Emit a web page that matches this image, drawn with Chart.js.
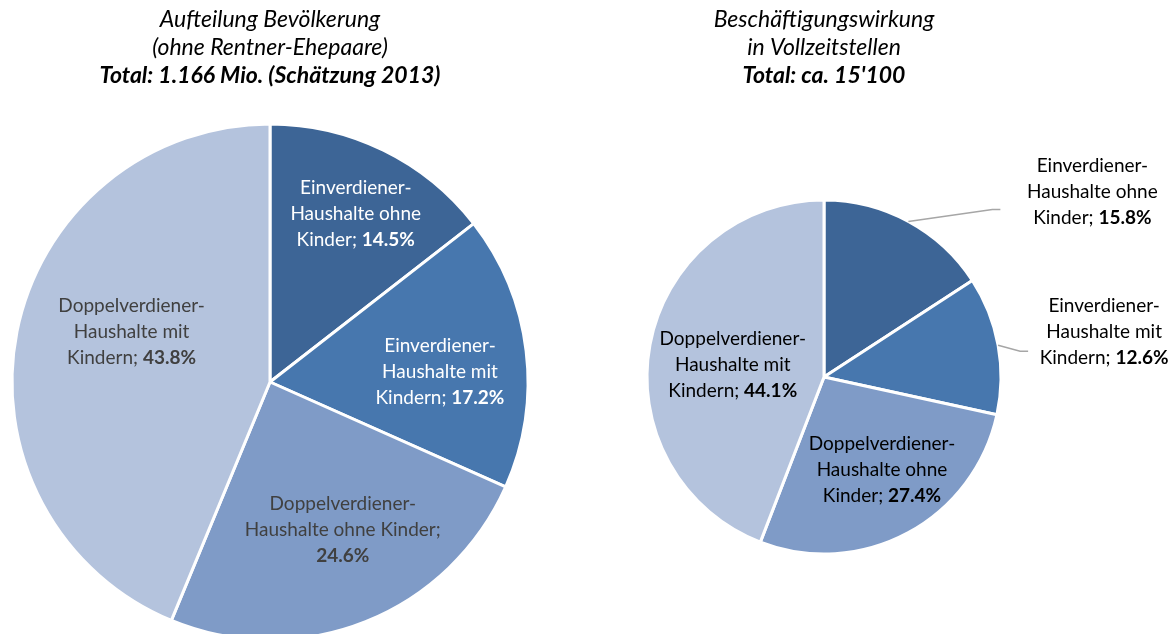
<!DOCTYPE html>
<html>
<head>
<meta charset="utf-8">
<script src="https://cdn.jsdelivr.net/npm/chart.js@4.4.0/dist/chart.umd.min.js"></script>
<style>
  html, body { margin: 0; padding: 0; background: #fff; overflow: hidden; width: 1174px; height: 634px; }
  .box { position: absolute; top: 0; }
  #leftBox { left: 0; width: 540px; height: 664px; }
  #rightBox { left: 462px; width: 712px; height: 654px; }
</style>
</head>
<body>
<div class="box" id="leftBox"><canvas id="leftChart"></canvas></div>
<div class="box" id="rightBox"><canvas id="rightChart"></canvas></div>
<script>
// chart data
const categories = [
    'Einverdiener-Haushalte ohne Kinder',
    'Einverdiener-Haushalte mit Kindern',
    'Doppelverdiener-Haushalte ohne Kinder',
    'Doppelverdiener-Haushalte mit Kindern'
];
const populationShares = [14.5, 17.2, 24.6, 43.8];
const employmentShares = [15.8, 12.6, 27.4, 44.1];

const leftTitle = ['Aufteilung Bevölkerung', '(ohne Rentner-Ehepaare)'];
const leftSubtitle = 'Total: 1.166 Mio. (Schätzung 2013)';
const rightTitle = ['Beschäftigungswirkung', 'in Vollzeitstellen'];
const rightSubtitle = "Total: ca. 15'100";

const sliceColors = ['#3d6596', '#4777ae', '#7f9bc7', '#b4c3dd'];
const FONT = 'Lato, "Liberation Sans", sans-serif';
const LABEL_SIZE = 19;
const LINE_H = 26;

// split a category name into tokens, wrap greedily, last token is the bold percentage
function buildLines(ctx, name, value, maxWidth) {
    const words = name.replace('-', '- ').split(' ').filter(Boolean);
    words[words.length - 1] += ';';
    const tokens = words.map(w => ({ text: w, bold: false }));
    tokens.push({ text: value.toFixed(1) + '%', bold: true });

    const widthOf = t => {
        ctx.font = (t.bold ? 'bold ' : '') + LABEL_SIZE + 'px ' + FONT;
        return ctx.measureText(t.text).width;
    };
    ctx.font = LABEL_SIZE + 'px ' + FONT;
    const space = ctx.measureText(' ').width;

    const lines = [];
    let cur = [];
    let curW = 0;
    tokens.forEach(t => {
        const w = widthOf(t);
        const forceBreak = cur.length && cur[cur.length - 1].text.endsWith('-');
        if (cur.length && (forceBreak || curW + space + w > maxWidth)) {
            lines.push(cur);
            cur = [];
            curW = 0;
        }
        curW += (cur.length ? space : 0) + w;
        cur.push({ text: t.text, bold: t.bold, w: w });
    });
    if (cur.length) lines.push(cur);
    return { lines: lines, space: space };
}

function drawLabel(ctx, cx, cy, block, color) {
    const n = block.lines.length;
    ctx.fillStyle = color;
    ctx.textAlign = 'left';
    ctx.textBaseline = 'middle';
    block.lines.forEach((line, li) => {
        const total = line.reduce((s, t) => s + t.w, 0) + block.space * (line.length - 1);
        let x = cx - total / 2;
        const y = cy + (li - (n - 1) / 2) * LINE_H;
        line.forEach(t => {
            ctx.font = (t.bold ? 'bold ' : '') + LABEL_SIZE + 'px ' + FONT;
            ctx.fillText(t.text, x, y);
            x += t.w + block.space;
        });
    });
}

const sliceLabels = {
    id: 'sliceLabels',
    afterDatasetsDraw(chart, args, opts) {
        const ctx = chart.ctx;
        const meta = chart.getDatasetMeta(0);
        const values = chart.data.datasets[0].data;
        ctx.save();
        meta.data.forEach((arc, i) => {
            const p = arc.getProps(['x', 'y', 'startAngle', 'endAngle', 'outerRadius'], true);
            const mid = (p.startAngle + p.endAngle) / 2;
            const pl = opts.place[i];
            let cx, cy;
            if (pl.outside) {
                const ex = p.x + Math.cos(mid) * p.outerRadius;
                const ey = p.y + Math.sin(mid) * p.outerRadius;
                ctx.strokeStyle = '#a6a6a6';
                ctx.lineWidth = 1.5;
                ctx.beginPath();
                ctx.moveTo(ex, ey);
                ctx.lineTo(ex + pl.elbow[0], ey + pl.elbow[1]);
                ctx.lineTo(ex + pl.elbow[0] + 8, ey + pl.elbow[1]);
                ctx.stroke();
                cx = ex + pl.label[0];
                cy = ey + pl.label[1];
            } else {
                const a = mid + pl.turn * Math.PI / 180;
                cx = p.x + Math.cos(a) * p.outerRadius * pl.r;
                cy = p.y + Math.sin(a) * p.outerRadius * pl.r;
            }
            const block = buildLines(ctx, chart.data.labels[i], values[i], pl.wrap);
            drawLabel(ctx, cx, cy, block, opts.colors[i]);
        });
        ctx.restore();
    }
};

function makePie(canvasId, values, title, subtitle, radius, padding, labelOpts) {
    return new Chart(document.getElementById(canvasId), {
        type: 'pie',
        data: {
            labels: categories,
            datasets: [{
                data: values,
                backgroundColor: sliceColors,
                borderColor: '#ffffff',
                borderWidth: 3
            }]
        },
        options: {
            responsive: true,
            maintainAspectRatio: false,
            animation: false,
            radius: radius,
            layout: { padding: padding },
            plugins: {
                legend: { display: false },
                tooltip: { enabled: false },
                title: {
                    display: true,
                    text: title,
                    color: '#000',
                    font: { family: FONT, size: 23, style: 'italic', weight: 'normal', lineHeight: '28px' },
                    padding: { top: 6, bottom: 0 }
                },
                subtitle: {
                    display: true,
                    text: subtitle,
                    color: '#000',
                    font: { family: FONT, size: 23, style: 'italic', weight: 'bold', lineHeight: '28px' },
                    padding: { top: 0, bottom: 10 }
                },
                sliceLabels: labelOpts
            }
        },
        plugins: [sliceLabels]
    });
}

makePie('leftChart', populationShares, leftTitle, leftSubtitle, 258,
    { left: 0, right: 0, top: 0, bottom: 0 },
    {
        colors: ['#ffffff', '#ffffff', '#404040', '#404040'],
        place: [
            { r: 0.73, turn: 1, wrap: 150 },
            { r: 0.66, turn: 3.4, wrap: 150 },
            { r: 0.64, turn: -4.4, wrap: 215 },
            { r: 0.57, turn: 8.5, wrap: 150 }
        ]
    });

makePie('rightChart', employmentShares, rightTitle, rightSubtitle, 177,
    { left: 12, right: 0, top: 0, bottom: 0 },
    {
        colors: ['#000000', '#000000', '#000000', '#000000'],
        place: [
            { outside: true, elbow: [84, -12], label: [184, -30], wrap: 150 },
            { outside: true, elbow: [22, 6], label: [106, -13], wrap: 150 },
            { r: 0.62, turn: -3.6, wrap: 150 },
            { r: 0.52, turn: -3, wrap: 150 }
        ]
    });
</script>
</body>
</html>
